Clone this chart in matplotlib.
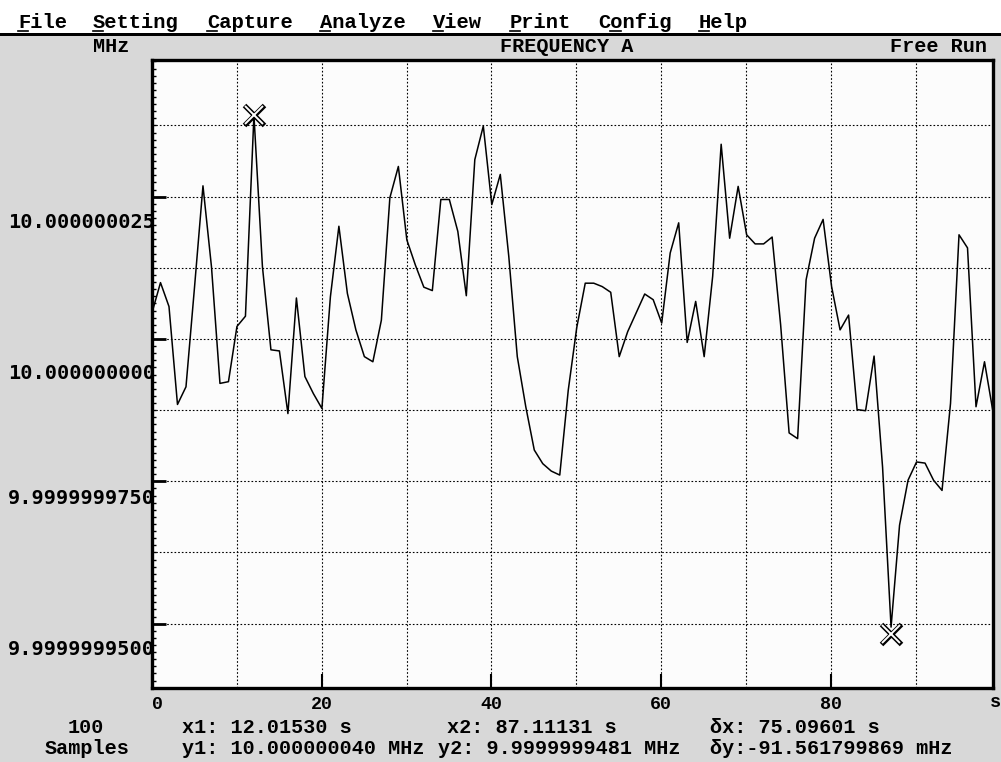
import numpy as np
import matplotlib.pyplot as plt
from matplotlib.patches import Rectangle
from matplotlib.lines import Line2D
from matplotlib.ticker import MultipleLocator

W, H = 1001, 762

# frequency readings, offset from 10 MHz in mHz (1e-9 MHz)
offset_mhz = [
    4.6, 9.9, 5.7, -11.5, -8.4, 9.0, 26.9, 12.7, -7.8, -7.5,
    2.2, 4.0, 39.3, 12.7, -1.9, -2.1, -13.1, 7.2, -6.6, -9.6,
    -12.2, 7.4, 19.8, 8.0, 1.6, -3.1, -4.0, 3.3, 24.8, 30.3,
    17.4, 13.0, 9.1, 8.5, 24.5, 24.5, 18.9, 7.6, 31.5, 37.4,
    23.6, 28.9, 14.5, -3.1, -11.9, -19.5, -21.9, -23.2, -23.9, -9.0,
    2.0, 9.8, 9.8, 9.2, 8.2, -3.1, 1.3, 4.6, 7.9, 6.9,
    2.8, 15.1, 20.4, -0.6, 6.6, -3.1, 11.0, 34.2, 17.7, 26.8,
    18.3, 16.7, 16.7, 17.9, 2.5, -16.5, -17.5, 10.4, 17.7, 21.0,
    9.2, 1.6, 4.2, -12.4, -12.6, -3.0, -22.5, -50.6, -32.7, -24.8,
    -21.6, -21.8, -24.8, -26.6, -11.3, 18.3, 16.0, -11.9, -4.0, -12.8,
]
sample_dt = 1.001279   # s between samples
n_samples = len(offset_mhz)
t = np.arange(n_samples) * sample_dt

cursor_x = [12.01530, 87.11131]
cursor_y = [39.3, -51.9]

ytick_vals = [25, 0, -25, -50]
ygrid_vals = [37.5, 25, 12.5, 0, -12.5, -25, -37.5, -50]
xtick_vals = [0, 20, 40, 60, 80]
xgrid_vals = [10, 20, 30, 40, 50, 60, 70, 80, 90]

menu_items = ['File', 'Setting', 'Capture', 'Analyze', 'View', 'Print', 'Config', 'Help']
menu_x = [18, 93, 207, 320, 433, 510, 598, 699]
menu_ul = [0, 0, 0, 0, 0, 0, 1, 0]   # underlined accelerator letter

BG = '#d8d8d8'
MONO = 'Liberation Mono'


def fx(x):
    return x / W


def fy(y):
    return 1 - y / H


def freq_label(v):
    f = 10 + v * 1e-9
    return '%.9f' % f if f >= 10 else '%.10f' % f


fig = plt.figure(figsize=(W / 100, H / 100), dpi=100, facecolor=BG)

# menu bar
fig.patches.append(Rectangle((0, fy(33)), 1, 33 / H, transform=fig.transFigure,
                             facecolor='white', edgecolor='none'))
fig.patches.append(Rectangle((0, fy(36)), 1, 3 / H, transform=fig.transFigure,
                             facecolor='black', edgecolor='none'))
cw = 12.4
for name, x, k in zip(menu_items, menu_x, menu_ul):
    fig.text(fx(x), fy(28), name, family=MONO, weight='bold', size=14.8,
             ha='left', va='baseline')
    x0 = x + k * cw
    fig.add_artist(Line2D([fx(x0), fx(x0 + cw - 2)], [fy(30.5), fy(30.5)],
                          transform=fig.transFigure, color='black', lw=1.2))

# header row
fig.text(fx(93), fy(52), 'MHz', family=MONO, weight='bold', size=14.5, va='baseline')
fig.text(fx(500), fy(52), 'FREQUENCY A', family=MONO, weight='bold', size=14.5, va='baseline')
fig.text(fx(890), fy(52), 'Free Run', family=MONO, weight='bold', size=14.5, va='baseline')

ax = fig.add_axes([fx(152), fy(688), (993 - 152) / W, (688 - 60) / H])
ax.set_facecolor('#fcfcfc')

for g in ygrid_vals:
    ax.axhline(g, color='black', lw=0.8, ls=(0, (1.5, 1.8)), zorder=1)
for g in xgrid_vals:
    ax.axvline(g, color='black', lw=0.8, ls=(0, (1.5, 1.8)), zorder=1)

ax.plot(t, offset_mhz, color='black', lw=1.1, zorder=3)
# outlined cursor crosses
ax.plot(cursor_x, cursor_y, ls='none', marker='x', ms=14, mec='black', mew=3.6, zorder=4)
ax.plot(cursor_x, cursor_y, ls='none', marker='x', ms=13, mec='white', mew=1.4, zorder=5)

ax.set_xlim(0, t[-1])
ax.set_ylim(-61.3, 49.0)

for s in ax.spines.values():
    s.set_linewidth(2.4)
    s.set_color('black')

ax.set_xticks(xtick_vals)
ax.set_xticklabels([str(v) for v in xtick_vals], family=MONO, weight='bold', size=13.2)
ax.get_xticklabels()[0].set_horizontalalignment('left')
ax.tick_params(axis='x', direction='in', length=10, width=1.5, pad=6)

ax.set_yticks(ytick_vals)
ax.set_yticklabels([])
ax.yaxis.set_minor_locator(MultipleLocator(1.25))
ax.tick_params(axis='y', which='major', direction='in', length=10, width=2)
ax.tick_params(axis='y', which='minor', direction='in', length=3, width=1)

label_drop = [26, 35, 17, 26]
for v, d in zip(ytick_vals, label_drop):
    ax.annotate(freq_label(v), xy=(0, v), xycoords=('axes fraction', 'data'),
                xytext=(3, -d), textcoords='offset pixels', ha='right', va='center',
                family='DejaVu Sans Mono', weight='bold', size=14.6,
                annotation_clip=False, zorder=6)

fig.text(fx(990), fy(707), 's', family=MONO, weight='bold', size=13.2, va='baseline')

# cursor readout
row1, row2 = 733, 754
fig.text(fx(86), fy(row1), '100', family=MONO, weight='bold', size=14.5,
         ha='center', va='baseline')
fig.text(fx(87), fy(row2), 'Samples', family=MONO, weight='bold', size=14.5,
         ha='center', va='baseline')
readout = [
    (182, row1, 'x1: 12.01530 s'),
    (447, row1, 'x2: 87.11131 s'),
    (710, row1, '\u03b4x: 75.09601 s'),
    (182, row2, 'y1: 10.000000040 MHz'),
    (438, row2, 'y2: 9.9999999481 MHz'),
    (710, row2, '\u03b4y:-91.561799869 mHz'),
]
for x, y, s in readout:
    fig.text(fx(x), fy(y), s, family=[MONO, 'DejaVu Sans Mono'], weight='bold',
             size=14.5, ha='left', va='baseline')

fig.savefig('out.png', dpi=100, facecolor=BG)
